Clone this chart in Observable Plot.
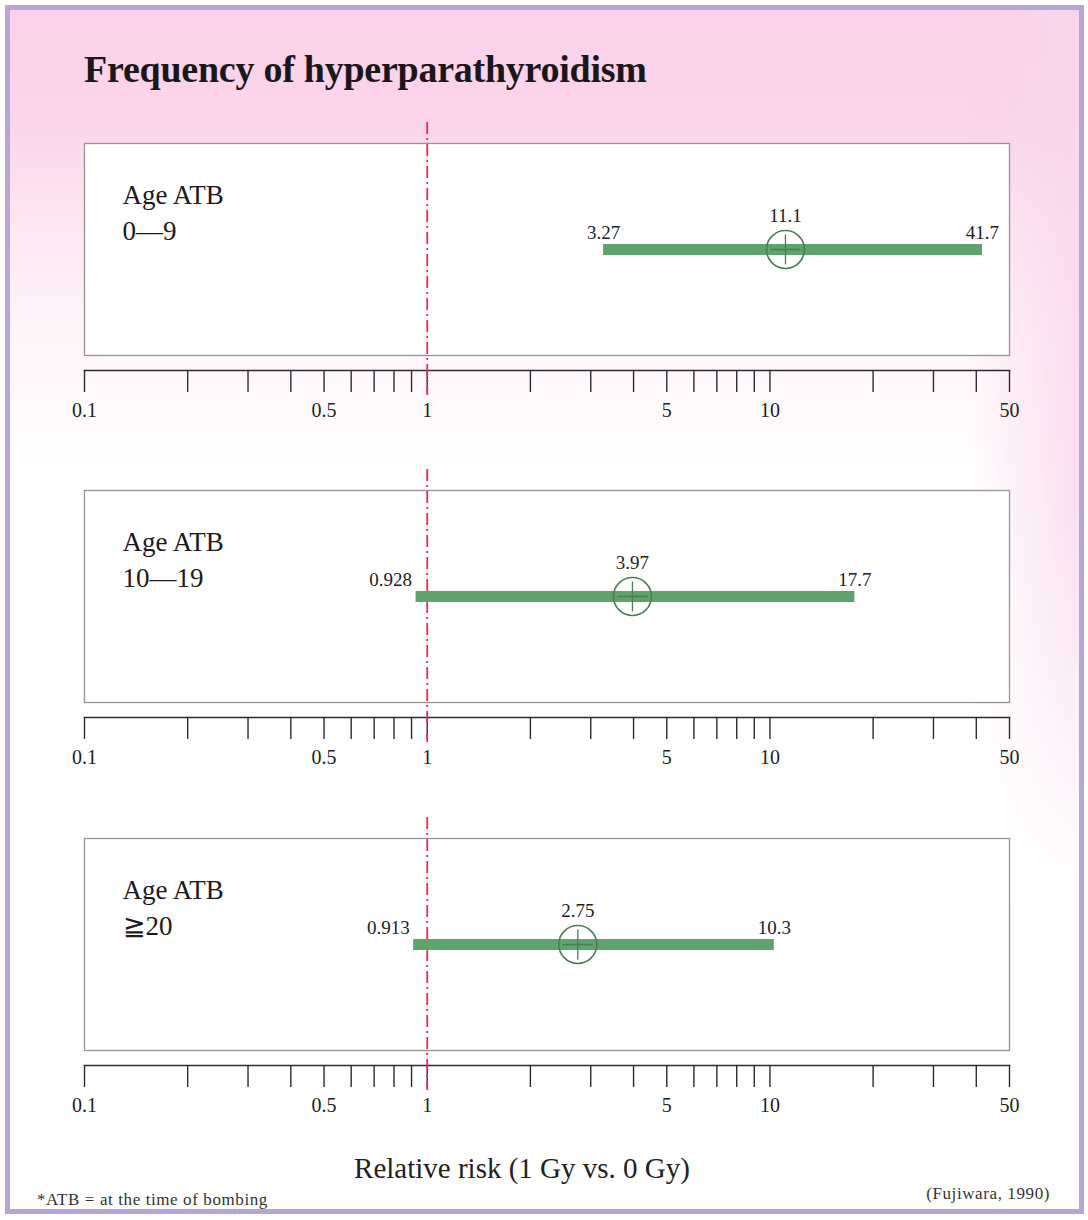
<!DOCTYPE html>
<html><head><meta charset="utf-8">
<script src="https://cdn.jsdelivr.net/npm/d3@7"></script>
<script src="https://cdn.jsdelivr.net/npm/@observablehq/plot@0.6"></script>
<style>
body{margin:0;background:#fff;}
#page{position:relative;width:1088px;height:1220px;overflow:hidden;font-family:"Liberation Serif","Times New Roman",serif;color:#1e1a1e;background:#fff}
#card{position:absolute;left:5px;top:5px;width:1069px;height:1199px;border:5px solid #b6a5d8;overflow:hidden;
  background:linear-gradient(to bottom, #fbd2e9 0px, #fbd5ea 110px, #fde6f2 210px, #fff6fa 330px, #ffffff 480px);}
#strip{position:absolute;right:0;top:0;width:110px;height:900px;
  background:linear-gradient(to right, rgba(249,214,236,0) 0%, rgba(249,214,236,0.8) 100%);
  -webkit-mask-image:linear-gradient(to bottom, #000 0%, #000 55%, transparent 100%);
  mask-image:linear-gradient(to bottom, #000 0%, #000 55%, transparent 100%);}
.abs{position:absolute;white-space:nowrap;line-height:1}
#title{left:84px;top:50px;font-size:38px;font-weight:bold;letter-spacing:-0.25px;color:#1a171a}
#xlabel{left:0;width:1044px;text-align:center;top:1154px;font-size:29px;color:#222}
#foot{left:37px;top:1191px;font-size:17px;letter-spacing:0.6px;color:#333}
#source{right:38px;top:1185px;font-size:17px;letter-spacing:0.6px;color:#333}
.panel{position:absolute;left:0}
</style></head><body>
<div id="page">
<div id="card"><div id="strip"></div></div>
<div class="abs" id="title">Frequency of hyperparathyroidism</div>
<div id="panels"></div>
<div class="abs" id="xlabel">Relative risk (1 Gy vs. 0 Gy)</div>
<div class="abs" id="foot">*ATB = at the time of bombing</div>
<div class="abs" id="source">(Fujiwara, 1990)</div>
</div>
<script>
// ---- data ----
const ageGroups = ["0—9", "10—19", "≧20"];
const estimate = [11.1, 3.97, 2.75];
const lower = [3.27, 0.928, 0.913];
const upper = [41.7, 17.7, 10.3];
const tickValues = [0.1, 0.2, 0.3, 0.4, 0.5, 0.6, 0.7, 0.8, 0.9, 1, 2, 3, 4, 5, 6, 7, 8, 9, 10, 20, 30, 40, 50];
const tickLabels = [0.1, 0.5, 1, 5, 10, 50];
const referenceValue = [1];

// ---- layout ----
const panelTops = [118, 465, 813];
const green = "#5fa36c";
const crossSymbol = {draw(ctx, size) {
  const r = Math.sqrt(size / Math.PI);
  ctx.moveTo(-r, 0); ctx.lineTo(r, 0);
  ctx.moveTo(0, -r); ctx.lineTo(0, r);
}};

const container = document.getElementById("panels");
ageGroups.forEach((g, i) => {
  const row = [{group: g, est: estimate[i], lo: lower[i], hi: upper[i]}];
  const loCentered = lower[i] > 1;
  const chart = Plot.plot({
    width: 1088, height: 302,
    marginLeft: 84, marginRight: 79, marginTop: 25, marginBottom: 50,
    style: {background: "transparent", fontFamily: "'Liberation Serif', 'Times New Roman', serif", color: "#1e1a1e", overflow: "visible"},
    x: {type: "log", domain: [0.1, 50], axis: null},
    y: {type: "point", domain: [g], axis: null, insetBottom: 15},
    marks: [
      Plot.frame({insetBottom: 15, fill: "white", stroke: "#969296", strokeWidth: 1.3}),
      Plot.frame({anchor: "bottom", stroke: "#2e2833", strokeWidth: 1.6}),
      Plot.axisX({ticks: tickValues, tickSize: 22, strokeWidth: 1.4, stroke: "#2e2833", tickFormat: () => ""}),
      Plot.text(tickLabels, {x: d => d, text: d => String(d), frameAnchor: "bottom", lineAnchor: "top",
        dy: 32, fontSize: 20, fill: "#222"}),
      Plot.text([`Age ATB\n${g}`], {frameAnchor: "top-left", dx: 38, dy: 36, lineAnchor: "top",
        fontSize: 27, lineHeight: 1.3, fill: "#1e1a1e"}),
      Plot.ruleX(referenceValue, {stroke: "#ee2a4c", strokeWidth: 1.8, strokeDasharray: "12,4,2,4",
        insetTop: -21, insetBottom: -25}),
      Plot.ruleY(row, {y: "group", x1: "lo", x2: "hi", stroke: green, strokeWidth: 11}),
      Plot.dot(row, {x: "est", y: "group", r: 19, stroke: "#4b7d52", strokeWidth: 1.6, fill: "none"}),
      Plot.dot(row, {x: "est", y: "group", r: 15, symbol: crossSymbol, stroke: "#4b7d52", strokeWidth: 1.3, fill: "none"}),
      Plot.text(row, {x: "est", y: "group", text: d => String(d.est), dy: -34, fontSize: 19, fill: "#222"}),
      Plot.text(row, {x: "lo", y: "group", text: d => String(d.lo), dy: -17, fontSize: 19, fill: "#222",
        textAnchor: loCentered ? "middle" : "end", dx: loCentered ? 0 : -4}),
      Plot.text(row, {x: "hi", y: "group", text: d => String(d.hi), dy: -17, fontSize: 19, fill: "#222"})
    ]
  });
  chart.classList.add("panel");
  chart.style.top = panelTops[i] + "px";
  container.appendChild(chart);
});
</script>
</body></html>
